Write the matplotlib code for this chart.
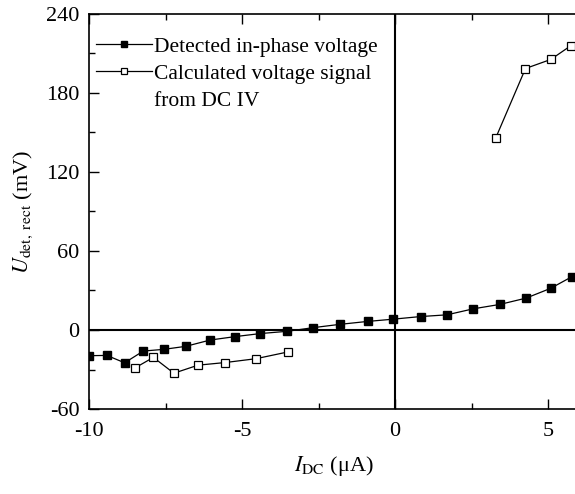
import matplotlib
matplotlib.use("Agg")
import matplotlib.pyplot as plt
from matplotlib.lines import Line2D
from matplotlib.ticker import MultipleLocator

plt.rcParams['font.family'] = ['Liberation Serif', 'DejaVu Serif']
plt.rcParams['mathtext.fontset'] = 'stix'
plt.rcParams['axes.unicode_minus'] = False

# detected in-phase voltage (filled squares)
i_det = [-10.0, -9.42, -8.84, -8.23, -7.56, -6.84, -6.04, -5.22, -4.4, -3.53,
         -2.67, -1.8, -0.9, -0.07, 0.83, 1.69, 2.56, 3.42, 4.28, 5.08, 5.78]
u_det = [-19.5, -19.3, -24.9, -16.0, -14.7, -12.4, -7.6, -5.0, -2.7, -1.0,
         1.8, 4.3, 6.5, 8.2, 10.2, 11.5, 16.1, 19.4, 24.2, 31.6, 40.5]

# voltage calculated from the DC IV curve (open squares), two branches
i_calc_neg = [-8.51, -7.9, -7.23, -6.44, -5.55, -4.55, -3.51]
u_calc_neg = [-28.9, -20.8, -32.8, -26.7, -24.7, -21.8, -16.7]
i_calc_pos = [3.29, 4.26, 5.09, 5.74]
u_calc_pos = [145.9, 198.5, 205.4, 215.8]

fig = plt.figure(figsize=(5.75, 4.94), dpi=100)
ax = fig.add_axes([0.155, 0.172, 0.8515, 0.8])

ax.axhline(0, color='black', lw=1.5, zorder=1)
ax.axvline(0, color='black', lw=1.5, zorder=1)

h_det, = ax.plot(i_det, u_det, '-s', color='black', mfc='black', mec='black',
                 ms=6, lw=0.9, zorder=3)
h_calc, = ax.plot(i_calc_neg, u_calc_neg, '-s', color='black', mfc='white',
                  mec='black', ms=6, mew=0.9, lw=0.9, zorder=3)
ax.plot(i_calc_pos, u_calc_pos, '-s', color='black', mfc='white', mec='black',
        ms=6, mew=0.9, lw=0.9, zorder=3)

ax.set_xlim(-10, 6)
ax.set_ylim(-60, 240)
ax.xaxis.set_major_locator(MultipleLocator(5))
ax.xaxis.set_minor_locator(MultipleLocator(2.5))
ax.yaxis.set_major_locator(MultipleLocator(60))
ax.yaxis.set_minor_locator(MultipleLocator(30))
ax.tick_params(which='both', direction='in', top=True, right=False,
               labelsize=16, width=1)
ax.tick_params(which='major', length=7)
ax.tick_params(which='minor', length=4)
ax.tick_params(axis='x', pad=9)
ax.tick_params(axis='y', pad=7)
for s in ax.spines.values():
    s.set_linewidth(1.2)

ax.set_xlabel(r'$I_{\mathrm{DC}}$ (μA)', fontsize=16, labelpad=10)
ax.set_ylabel(r'$U_{\mathrm{det,\ rect}}$ (mV)', fontsize=16, labelpad=8)

# the second label wraps onto a line with no handle of its own
blank = Line2D([], [], linestyle='none', marker='none')
ax.legend([h_det, h_calc, blank],
          ['Detected in-phase voltage', 'Calculated voltage signal',
           'from DC IV'],
          loc='upper left', frameon=False, fontsize=15.5,
          handlelength=2.6, handletextpad=0.1, borderaxespad=0.2,
          labelspacing=0.32, markerscale=0.75,
          bbox_to_anchor=(-0.012, 0.975))

fig.savefig('out.png', dpi=100)
